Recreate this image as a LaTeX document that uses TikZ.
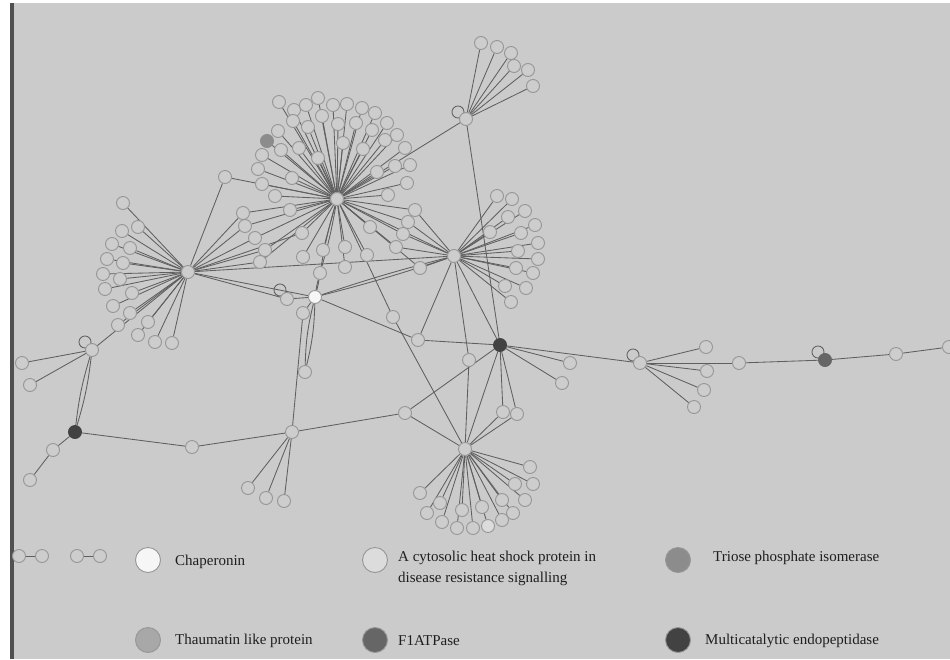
\documentclass[tikz,border=0pt]{standalone}
\usepackage{fontspec}
\setmainfont{Liberation Serif}
\usetikzlibrary{calc}
\pgfdeclarelayer{bg}
\pgfdeclarelayer{edgel}
\pgfsetlayers{bg,edgel,main}
\definecolor{bgc}{RGB}{203,203,203}
\definecolor{borderc}{RGB}{80,80,80}
\definecolor{nodefill}{RGB}{205,205,205}
\definecolor{nodeline}{RGB}{150,150,150}
\definecolor{edgec}{RGB}{95,95,95}
\definecolor{chapc}{RGB}{246,246,246}
\definecolor{hspc}{RGB}{220,220,220}
\definecolor{triosec}{RGB}{140,140,140}
\definecolor{thaumc}{RGB}{168,168,168}
\definecolor{fatpc}{RGB}{102,102,102}
\definecolor{multic}{RGB}{66,66,66}
\definecolor{textc}{RGB}{30,30,30}
\begin{document}
\begin{tikzpicture}[x=1pt,y=-1pt,
  leaf/.style={circle,minimum size=13pt,inner sep=0pt,fill=nodefill,draw=nodeline,line width=0.9pt},
  edge/.style={draw=edgec,line width=0.85pt},
  loopring/.style={draw=edgec,line width=0.85pt},
  legc/.style={circle,minimum size=25pt,inner sep=0pt,draw=nodeline,line width=0.9pt},
  lbl/.style={anchor=west,inner sep=0pt,text=textc,font=\fontsize{15}{21}\selectfont}]
\useasboundingbox (0,0) rectangle (950,659);
\begin{pgfonlayer}{bg}
  \fill[white] (0,0) rectangle (950,659);
  \fill[bgc] (10,3) rectangle (950,659);
  \fill[borderc] (10,3) rectangle (14,659);
\end{pgfonlayer}

% ---------- hubs and special nodes ----------
\node[leaf] (h1) at (337,199) {};
\node[leaf] (h2) at (188,272) {};
\node[leaf] (h3) at (454,256) {};
\node[leaf] (h4) at (465,449) {};
\node[leaf,fill=multic,draw=multic] (h5) at (500,345) {};
\node[leaf,fill=chapc,draw=nodeline] (ch) at (315,297) {};
\node[leaf] (t) at (466,119) {};
\node[leaf] (p) at (640,363) {};
\node[leaf,fill=fatpc,draw=fatpc] (f) at (825,360) {};
\node[leaf,fill=multic,draw=multic] (dk) at (75,432) {};
\node[leaf] (lp) at (92,350) {};
\node[leaf] (m) at (292,432) {};
\node[leaf] (br) at (225,177) {};
\node[leaf,fill=triosec,draw=triosec] (tp) at (267,141) {};
\node[leaf] (l1) at (22,363) {};
\node[leaf] (l2) at (30,385) {};
\node[leaf] (d1) at (53,450) {};
\node[leaf] (d2) at (30,480) {};
\node[leaf] (b0) at (192,447) {};
\node[leaf] (m1) at (248,488) {};
\node[leaf] (m2) at (266,498) {};
\node[leaf] (m3) at (284,501) {};
\node[leaf] (q1) at (405,413) {};
\node[leaf] (q2) at (503,412) {};
\node[leaf] (q3) at (517,414) {};
\node[leaf] (q4) at (469,360) {};
\node[leaf] (q5) at (418,340) {};
\node[leaf] (q6) at (393,317) {};
\node[leaf] (r1) at (570,363) {};
\node[leaf] (r2) at (562,383) {};
\node[leaf] (z1) at (739,363) {};
\node[leaf] (z2) at (896,354) {};
\node[leaf] (z3) at (949,347) {};
\node[leaf] (s1) at (287,299) {};
\node[leaf] (s2) at (303,313) {};
\node[leaf] (s3) at (305,372) {};
\node[leaf] (s4) at (320,273) {};
% small separate components
\node[leaf] (x1) at (19,556) {};
\node[leaf] (x2) at (42,556) {};
\node[leaf] (x3) at (77,556) {};
\node[leaf] (x4) at (100,556) {};

% ---------- leaf groups ----------
\foreach \x/\y [count=\i] in {279/102,294/110,306/105,318/98,333/105,347/104,362/108,375/113,387/123,397/135,405/148,410/165,407/183,
  293/121,308/127,322/116,338/124,356/123,372/130,385/140,278/131,262/155,258/169,262/184,275/196,292/178,281/150,299/148,318/158,343/143,363/149,377/172,395/166,388/195,
  290/210,302/233,303/257,323/250,345/247,345/267,367/255,370/227}
  \node[leaf] (a\i) at (\x,\y) {};
\foreach \x/\y [count=\i] in {243/213,245/226,255/238,265/250,260/262}
  \node[leaf] (b\i) at (\x,\y) {};
\foreach \x/\y [count=\i] in {415/210,408/222,403/234,396/247,420/268}
  \node[leaf] (e\i) at (\x,\y) {};
\foreach \x/\y [count=\i] in {123/203,138/227,122/231,112/244,130/248,107/259,123/263,103/274,120/279,105/289,132/293,113/306,130/313,118/325,148/322,138/335,155/342,172/343}
  \node[leaf] (g\i) at (\x,\y) {};
\foreach \x/\y [count=\i] in {497/196,512/199,525/211,535/225,508/217,490/232,521/233,538/243,518/251,538/259,516/268,533/273,526/288,505/286,511/302}
  \node[leaf] (k\i) at (\x,\y) {};
\foreach \x/\y [count=\i] in {530/467,533/484,515/484,525/500,513/513,502/500,502/520,473/528,482/507,462/510,457/528,442/522,440/503,427/513,420/493}
  \node[leaf] (w\i) at (\x,\y) {};
\node[leaf,fill=hspc,draw=nodeline] (w16) at (488,526) {};
\foreach \x/\y [count=\i] in {481/43,497/47,511/53,514/66,528/70,533/86}
  \node[leaf] (u\i) at (\x,\y) {};
\foreach \x/\y [count=\i] in {706/347,707/371,704/390,694/407}
  \node[leaf] (v\i) at (\x,\y) {};

% ---------- edges ----------
\begin{pgfonlayer}{edgel}
  \foreach \i in {1,...,42} \draw[edge] (h1) -- (a\i);
  \draw[edge] (h1) -- (tp);
  \foreach \i in {1,...,5} {\draw[edge] (h1) -- (b\i); \draw[edge] (h2) -- (b\i);}
  \foreach \i in {1,...,5} {\draw[edge] (h1) -- (e\i); \draw[edge] (h3) -- (e\i);}
  \foreach \i in {1,...,18} \draw[edge] (h2) -- (g\i);
  \foreach \i in {1,...,15} \draw[edge] (h3) -- (k\i);
  \foreach \i in {1,...,16} \draw[edge] (h4) -- (w\i);
  \foreach \i in {1,...,6} \draw[edge] (t) -- (u\i);
  \foreach \i in {1,...,4} \draw[edge] (p) -- (v\i);
  % backbone
  \draw[edge] (h1) -- (t);
  \draw[edge] (t) -- (h5);
  \draw[edge] (h1) -- (h3);
  \draw[edge] (h2) -- (br);
  \draw[edge] (br) -- (h1);
  \draw[edge] (h2) -- (a36);
  \draw[edge] (h2) -- (h3);
  \draw[edge] (h2) -- (s1);
  \draw[edge] (s1) -- (ch);
  \draw[edge] (h2) -- (ch);
  \draw[edge] (h2) -- (lp);
  \draw[edge] (ch) to[bend left=3] (s4);
  \draw[edge] (ch) to[bend right=3] (s4);
  \draw[edge] (s4) to[bend left=3] (h1);
  \draw[edge] (s4) to[bend right=3] (h1);
  \draw[edge] (ch) to[bend left=2] (h3);
  \draw[edge] (ch) to[bend right=2] (h3);
  \draw[edge] (ch) -- (s2);
  \draw[edge] (ch) to[bend left=6] (s3);
  \draw[edge] (ch) to[bend right=6] (s3);
  \draw[edge] (s2) -- (m);
  \draw[edge] (ch) -- (q5);
  \draw[edge] (q5) -- (h5);
  \draw[edge] (h3) -- (q5);
  \draw[edge] (h1) -- (q6);
  \draw[edge] (q6) -- (h4);
  \draw[edge] (h3) -- (h5);
  \draw[edge] (h3) -- (q4);
  \draw[edge] (q4) -- (h4);
  \draw[edge] (h5) -- (h4);
  \draw[edge] (h5) -- (q1);
  \draw[edge] (h5) -- (q2);
  \draw[edge] (h5) -- (q3);
  \draw[edge] (q2) -- (h4);
  \draw[edge] (q3) -- (h4);
  \draw[edge] (q1) -- (h4);
  \draw[edge] (h5) -- (r1);
  \draw[edge] (h5) -- (r2);
  \draw[edge] (h5) -- (p);
  \draw[edge] (p) -- (z1);
  \draw[edge] (z1) -- (f);
  \draw[edge] (f) -- (z2);
  \draw[edge] (z2) -- (z3);
  \draw[edge] (m) -- (q1);
  \draw[edge] (m) -- (m1);
  \draw[edge] (m) -- (m2);
  \draw[edge] (m) -- (m3);
  \draw[edge] (b0) -- (m);
  \draw[edge] (dk) -- (b0);
  \draw[edge] (dk) -- (d1);
  \draw[edge] (d1) -- (d2);
  \draw[edge] (lp) to[bend left=5] (dk);
  \draw[edge] (lp) to[bend right=5] (dk);
  \draw[edge] (lp) -- (l1);
  \draw[edge] (lp) -- (l2);
  \draw[edge] (x1) -- (x2);
  \draw[edge] (x3) -- (x4);
  % self loops
  \draw[loopring] ($(t)+(-8,-7)$) circle[radius=6pt];
  \draw[loopring] ($(p)+(-7,-8)$) circle[radius=6pt];
  \draw[loopring] ($(f)+(-7,-8)$) circle[radius=6pt];
  \draw[loopring] ($(lp)+(-7,-8)$) circle[radius=6pt];
  \draw[loopring] ($(s1)+(-7,-9)$) circle[radius=6pt];
\end{pgfonlayer}

% ---------- legend ----------
\node[legc,fill=chapc] (lg1) at (148,560) {};
\node[lbl] (lt1) at (175,562) {Chaperonin};
\node[legc,fill=hspc] (lg2) at (375,560) {};
\node[lbl,align=left] (lt2) at (398,568) {A cytosolic heat shock protein in\\disease resistance signalling};
\node[legc,fill=triosec] (lg3) at (678,560) {};
\node[lbl] (lt3) at (713,558) {Triose phosphate isomerase};
\node[legc,fill=thaumc] (lg4) at (148,640) {};
\node[lbl] (lt4) at (175,641) {Thaumatin like protein};
\node[legc,fill=fatpc] (lg5) at (375,640) {};
\node[lbl] (lt5) at (398,641) {F1ATPase};
\node[legc,fill=multic] (lg6) at (678,640) {};
\node[lbl] (lt6) at (705,641) {Multicatalytic endopeptidase};
\end{tikzpicture}
\end{document}
